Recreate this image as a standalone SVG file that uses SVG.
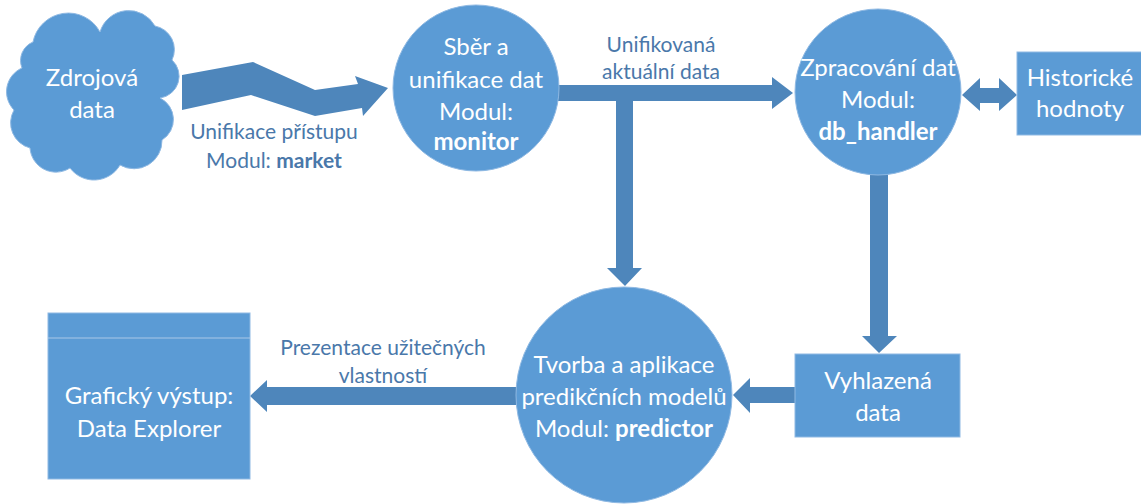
<svg xmlns="http://www.w3.org/2000/svg" width="1141" height="504" viewBox="0 0 1141 504">
  <style>
    .shape { fill: #5b9bd5; stroke: #8fb9e3; stroke-width: 1; }
    .arrow { fill: #4e86bb; stroke: none; }
    .t { font-family: Lato, "Liberation Sans", sans-serif; font-size: 24px; fill: #ffffff; text-anchor: middle; }
    .lbl { font-family: Lato, "Liberation Sans", sans-serif; font-size: 21px; fill: #4a78aa; text-anchor: middle; }
    .b { font-weight: bold; }
    .divider { stroke: #a9c8e8; stroke-width: 1.2; }
  </style>
  <rect width="1141" height="504" fill="#ffffff"/>

  <!-- connectors -->
  <g id="connectors">
    <path class="arrow" d="M182,75 L253,62 L315,90 L358,84 L355,76 L388,88 L363,116 L362,108 L315,116 L251,95 L182,110 Z"/>
    <path class="arrow" d="M556,85 L772,85 L772,77 L793,93 L772,109 L772,101 L556,101 Z"/>
    <path class="arrow" d="M616,101 L633,101 L633,268 L642,268 L625,286 L607,268 L616,268 Z"/>
    <path class="arrow" d="M962,95 L980,78 L980,88 L999,88 L999,78 L1017,95 L999,111 L999,103 L980,103 L980,111 Z"/>
    <path class="arrow" d="M870,173 L888,173 L888,336 L897,336 L879,353 L862,336 L870,336 Z"/>
    <path class="arrow" d="M796,387 L750,387 L750,378 L733,395 L750,413 L750,403 L796,403 Z"/>
    <path class="arrow" d="M518,387 L267,387 L267,380 L250,396 L267,412 L267,405 L518,405 Z"/>
    <text class="lbl" x="274" y="139">Unifikace přístupu</text>
    <text class="lbl" x="274" y="168">Modul: <tspan class="b">market</tspan></text>
    <text class="lbl" x="661" y="52">Unifikovaná</text>
    <text class="lbl" x="661" y="79">aktuální data</text>
    <text class="lbl" x="383" y="355">Prezentace užitečných</text>
    <text class="lbl" x="383" y="383">vlastností</text>
  </g>

  <!-- source cloud -->
  <g id="zdrojova-data">
    <path class="shape" d="M33,42 A36 36 0 0 1 100,32 A30 30 0 0 1 155,26 A24 24 0 0 1 172,60 A22 22 0 0 1 160,98 A24 24 0 0 1 162,140 A28 28 0 0 1 120,165 A30 30 0 0 1 70,168 A26 26 0 0 1 30,148 A26 26 0 0 1 14,110 A26 26 0 0 1 22,68 A20 20 0 0 1 33,42 Z"/>
    <text class="t" x="92" y="86">Zdrojová</text>
    <text class="t" x="92" y="118">data</text>
  </g>

  <g id="monitor">
    <circle class="shape" cx="476" cy="88" r="83"/>
    <text class="t" x="476" y="55">Sběr a</text>
    <text class="t" x="476" y="88">unifikace dat</text>
    <text class="t" x="476" y="120">Modul:</text>
    <text class="t b" x="476" y="150">monitor</text>
  </g>

  <g id="db-handler">
    <circle class="shape" cx="878" cy="92" r="83"/>
    <text class="t" x="878" y="76">Zpracování dat</text>
    <text class="t" x="878" y="108">Modul:</text>
    <text class="t b" x="878" y="140">db_handler</text>
  </g>

  <g id="historicke-hodnoty">
    <rect class="shape" x="1017" y="52" width="130" height="83"/>
    <text class="t" x="1080" y="86">Historické</text>
    <text class="t" x="1080" y="117">hodnoty</text>
  </g>

  <g id="vyhlazena-data">
    <rect class="shape" x="795" y="354" width="165" height="83"/>
    <text class="t" x="878" y="389">Vyhlazená</text>
    <text class="t" x="878" y="421">data</text>
  </g>

  <g id="predictor">
    <circle class="shape" cx="624" cy="395" r="108"/>
    <text class="t" x="624" y="373">Tvorba a aplikace</text>
    <text class="t" x="624" y="405">predikčních modelů</text>
    <text class="t" x="624" y="437">Modul: <tspan class="b">predictor</tspan></text>
  </g>

  <g id="data-explorer">
    <rect class="shape" x="48" y="313" width="202" height="166"/>
    <line class="divider" x1="48" y1="338" x2="250" y2="338"/>
    <text class="t" x="149" y="404">Grafický výstup:</text>
    <text class="t" x="149" y="437">Data Explorer</text>
  </g>
</svg>
